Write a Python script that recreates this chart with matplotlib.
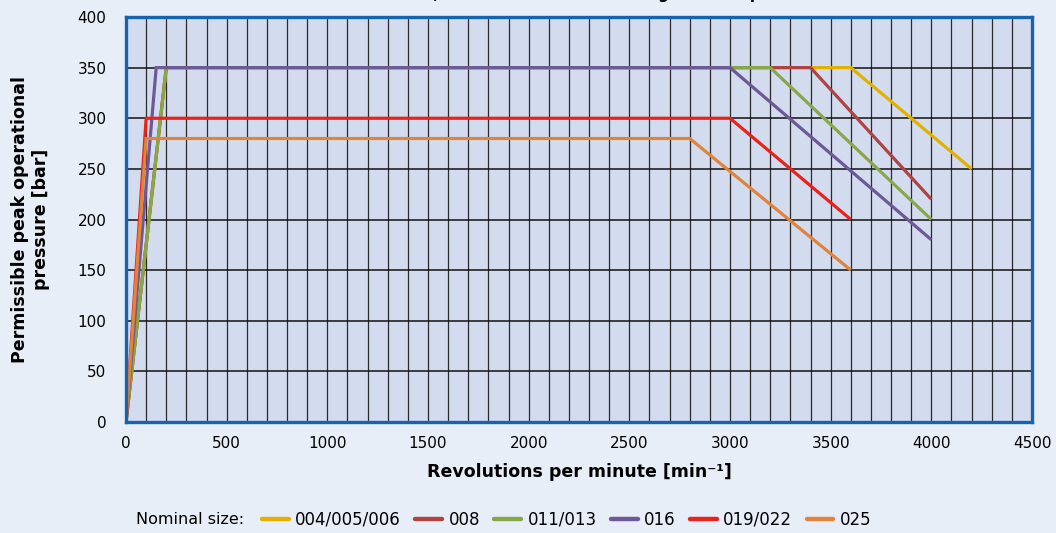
import matplotlib
matplotlib.use("Agg")
import matplotlib.pyplot as plt
from matplotlib.lines import Line2D

# nominal sizes and their speed / pressure limits
SIZES = ["004/005/006", "008", "011/013", "016", "019/022", "025"]
RPM = [
    [0, 200, 3600, 4200],
    [0, 200, 3400, 4000],
    [0, 200, 3200, 4000],
    [0, 150, 3000, 4000],
    [0, 100, 3000, 3600],
    [0, 100, 2800, 3600],
]
PRESSURE = [
    [0, 350, 350, 250],
    [0, 350, 350, 220],
    [0, 350, 350, 200],
    [0, 350, 350, 180],
    [0, 300, 300, 200],
    [0, 280, 280, 150],
]
COLORS = ["#e2b100", "#ad4342", "#88a64a", "#6c5995", "#e8231b", "#e0843b"]

X_TICKS = list(range(0, 4501, 500))
Y_TICKS = list(range(0, 401, 50))

FIG_BG = "#e8eef8"
AX_BG = "#d3dcef"
FRAME = "#1664ae"

plt.rcParams["font.family"] = ["DejaVu Sans"]

fig = plt.figure(figsize=(10.56, 5.33), dpi=100, facecolor=FIG_BG)
ax = fig.add_axes([126 / 1056, 111 / 533, 906 / 1056, 405 / 533])
ax.set_facecolor(AX_BG)

for rpm, p, c, name in zip(RPM, PRESSURE, COLORS, SIZES):
    ax.plot(rpm, p, color=c, linewidth=2.3, solid_capstyle="butt",
            solid_joinstyle="miter", label=name, zorder=3)

ax.set_xlim(0, 4500)
ax.set_ylim(0, 400)
ax.set_xticks(X_TICKS)
ax.set_yticks(Y_TICKS)
ax.set_xticks(range(0, 4501, 100), minor=True)
ax.grid(which="major", axis="y", color="#111111", linewidth=1.1, zorder=1)
ax.grid(which="both", axis="x", color="#2a2a2a", linewidth=0.9, zorder=1)
ax.tick_params(which="both", length=0)
ax.tick_params(axis="x", pad=10, labelsize=11)
ax.tick_params(axis="y", pad=14, labelsize=11)
ax.set_axisbelow(True)

for sp in ax.spines.values():
    sp.set_color(FRAME)
    sp.set_linewidth(2.4)
    sp.set_zorder(4)

ax.set_xlabel("Revolutions per minute [min⁻¹]", fontsize=12.5,
              fontweight="bold", labelpad=9)
ax.set_ylabel("Permissible peak operational\npressure [bar]", fontsize=12.5,
              fontweight="bold", labelpad=20)

# title sits above the canvas, only its descenders show
fig.text(248 / 1056, 1.0 + 1.5 / 533,
         "Maximum revolutions, without inlet boost during normal operation",
         fontsize=11, fontweight="bold", ha="left", va="baseline")

fig.text(136 / 1056, 13 / 533, "Nominal size:", fontsize=11.5,
         ha="left", va="center")
handles = [Line2D([], [], color=c, linewidth=3.2, solid_capstyle="round")
           for c in COLORS]
fig.legend(handles, SIZES, ncol=6, loc="center left",
           bbox_to_anchor=(262 / 1056, 13 / 533), frameon=False,
           fontsize=12, handlelength=1.6, handletextpad=0.4,
           columnspacing=0.85, borderaxespad=0, borderpad=0)

fig.savefig("out.png", dpi=100, facecolor=FIG_BG)
